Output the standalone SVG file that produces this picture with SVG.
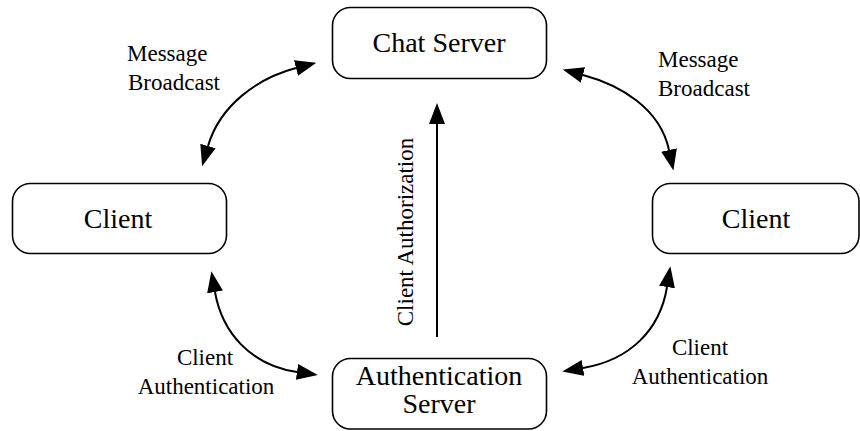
<svg xmlns="http://www.w3.org/2000/svg" width="860" height="431" viewBox="0 0 860 431">
<style>
.box{fill:#fff;stroke:#000;stroke-width:1.6}
.nt{font-family:"Liberation Serif","Times New Roman",serif;font-size:28px;fill:#000;text-anchor:middle}
.lt{font-family:"Liberation Serif","Times New Roman",serif;font-size:23px;fill:#000}
.c{fill:none;stroke:#000;stroke-width:2}
</style>
<defs>
<marker id="ah" markerUnits="userSpaceOnUse" viewBox="0 0 21 16" refX="0" refY="8" markerWidth="21" markerHeight="16" orient="auto-start-reverse">
<path d="M0,0 L21,8 L0,16 z" fill="#000"/>
</marker>
</defs>
<rect width="860" height="431" fill="#fff"/>
<g id="connectors">
<path class="c" d="M296 68 C258 78 220 105 208 146" marker-start="url(#ah)" marker-end="url(#ah)"/>
<path class="c" d="M583 75 C620 85 660 108 669 150" marker-start="url(#ah)" marker-end="url(#ah)"/>
<path class="c" d="M215 292 C222 332 250 365 297 372" marker-start="url(#ah)" marker-end="url(#ah)"/>
<path class="c" d="M667 287 C660 330 630 360 583 368" marker-start="url(#ah)" marker-end="url(#ah)"/>
<path class="c" d="M437 337 L437 124" marker-end="url(#ah)"/>
<text class="lt" x="127" y="61">Message</text>
<text class="lt" x="128" y="90">Broadcast</text>
<text class="lt" x="658" y="67">Message</text>
<text class="lt" x="658" y="96">Broadcast</text>
<text class="lt" x="205" y="365" text-anchor="middle">Client</text>
<text class="lt" x="206" y="394" text-anchor="middle">Authentication</text>
<text class="lt" x="700" y="355" text-anchor="middle">Client</text>
<text class="lt" x="700" y="384" text-anchor="middle">Authentication</text>
<text class="lt" x="0" y="0" text-anchor="middle" transform="translate(413 232) rotate(-90)">Client Authorization</text>
</g>
<g id="chat-server">
<rect class="box" x="332.5" y="7.5" width="214" height="71" rx="18"/>
<text class="nt" x="439" y="52">Chat Server</text>
</g>
<g id="client-left">
<rect class="box" x="12.5" y="183.5" width="214" height="70" rx="18"/>
<text class="nt" x="118" y="228">Client</text>
</g>
<g id="client-right">
<rect class="box" x="652.5" y="183.5" width="206.5" height="70" rx="18"/>
<text class="nt" x="756" y="228">Client</text>
</g>
<g id="auth-server">
<rect class="box" x="332.5" y="358.5" width="214" height="70.5" rx="18"/>
<text class="nt" x="439" y="385">Authentication</text>
<text class="nt" x="439" y="413">Server</text>
</g>
</svg>
